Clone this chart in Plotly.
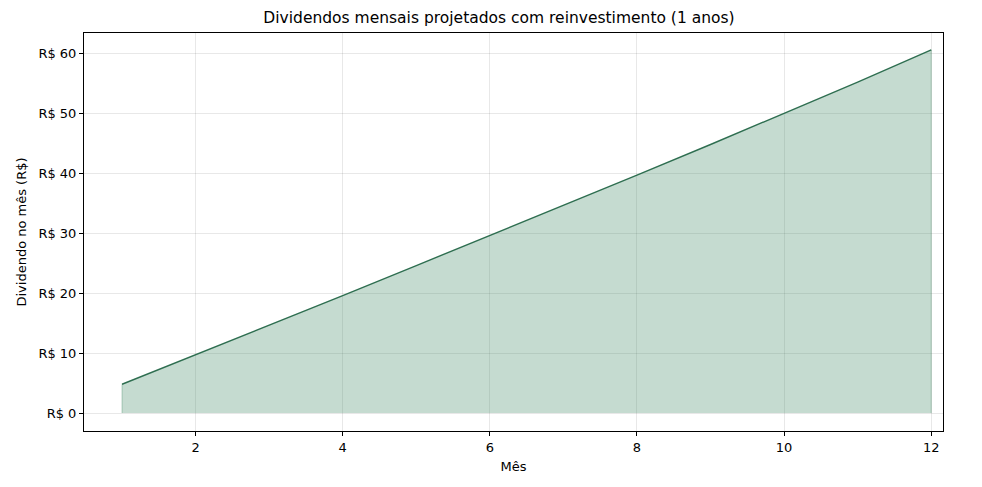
import plotly.graph_objects as go

# === Data ===
meses = [1, 2, 3, 4, 5, 6, 7, 8, 9, 10, 11, 12]
dividendos = [4.8, 9.7, 14.7, 19.6, 24.6, 29.6, 34.6, 39.7, 44.8, 50.0, 55.2, 60.6]

y_ticks = [0, 10, 20, 30, 40, 50, 60]
y_tick_labels = [f"R$ {v}" for v in y_ticks]
x_ticks = [2, 4, 6, 8, 10, 12]

green = "rgb(46,110,80)"

fig = go.Figure()

# base of the filled area (fill_between look)
fig.add_trace(go.Scatter(
    x=meses, y=[0] * len(meses),
    mode="lines", line=dict(width=0), hoverinfo="skip", showlegend=False))

fig.add_trace(go.Scatter(
    x=meses, y=dividendos,
    mode="lines", fill="tonexty", fillcolor="rgba(62,135,98,0.3)",
    line=dict(color=green, width=1.4), showlegend=False))

# vertical edges of the fill
fig.add_trace(go.Scatter(
    x=[meses[0], meses[0], None, meses[-1], meses[-1]],
    y=[0, dividendos[0], None, 0, dividendos[-1]],
    mode="lines", line=dict(color="rgba(62,135,98,0.35)", width=1),
    hoverinfo="skip", showlegend=False))

axis_common = dict(
    showline=True, linecolor="black", linewidth=1, mirror=True,
    ticks="outside", ticklen=4, tickcolor="black",
    showgrid=True, gridcolor="rgba(0,0,0,0.09)", gridwidth=1,
    zeroline=False, tickfont=dict(size=13, color="black"),
)

fig.update_layout(
    width=982, height=487,
    paper_bgcolor="white", plot_bgcolor="white",
    font=dict(family="DejaVu Sans", color="black"),
    title=dict(text="Dividendos mensais projetados com reinvestimento (1 anos)",
               x=0.5, xanchor="center", y=0.981, yanchor="middle",
               font=dict(size=15.5)),
    margin=dict(l=76, r=47, t=25, b=64),
    xaxis=dict(range=[0.483, 12.16], tickvals=x_ticks,
               title=dict(text="Mês", font=dict(size=13), standoff=8),
               **axis_common),
    yaxis=dict(range=[-3.0, 63.4], tickvals=y_ticks, ticktext=y_tick_labels,
               title=dict(text="Dividendo no mês (R$)", font=dict(size=13), standoff=8),
               **axis_common),
)

fig.write_html("out.html")
